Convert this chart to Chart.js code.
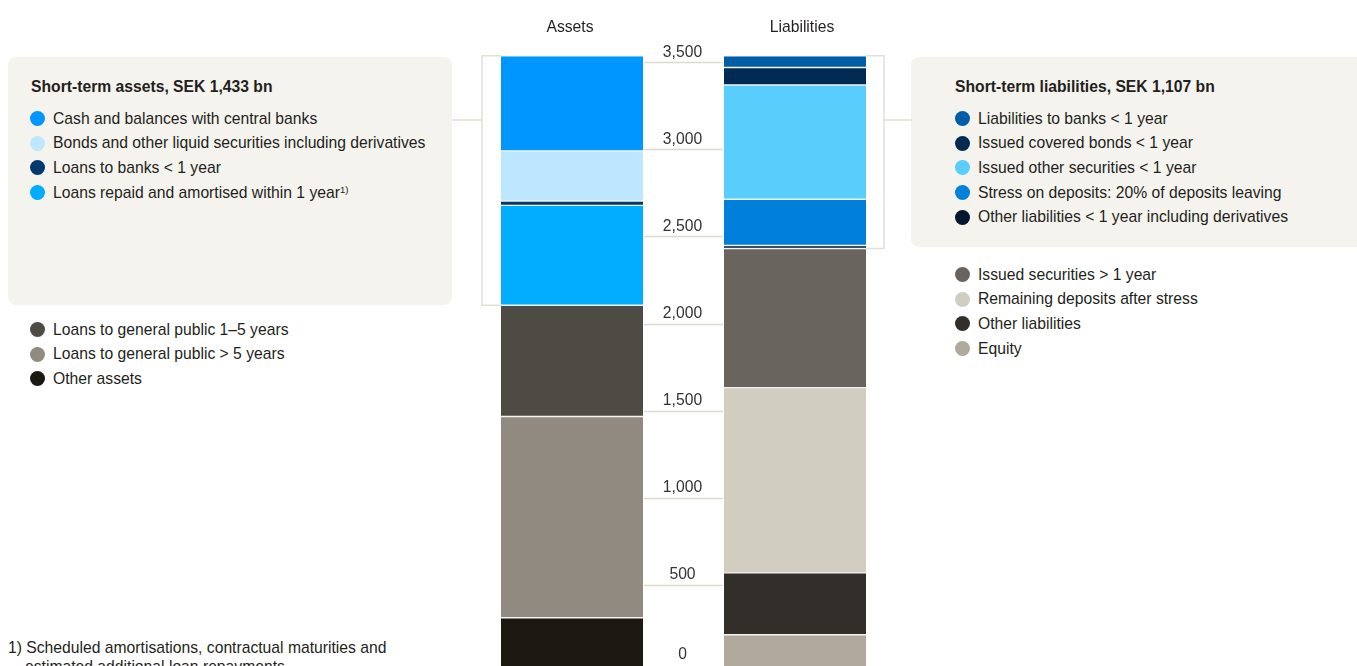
<!DOCTYPE html>
<html>
<head>
<meta charset="utf-8">
<script src="https://cdn.jsdelivr.net/npm/chart.js@4/dist/chart.umd.min.js"></script>
<style>
  html, body { margin: 0; padding: 0; }
  body {
    width: 1357px; height: 666px; overflow: hidden; position: relative;
    background: #fff; color: #231f20;
    font-family: "Liberation Sans", Arial, Helvetica, sans-serif; font-size: 15.7px;
  }
  .box { position: absolute; background: #f5f3ee; border-radius: 8px; }
  .title { position: absolute; font-weight: bold; line-height: 18px; }
  .legend { position: absolute; margin: 0; padding: 0; list-style: none; }
  .legend li { position: relative; height: 24.7px; line-height: 24.7px; padding-left: 23px; white-space: nowrap; }
  .legend li .dot {
    position: absolute; left: 0; top: 4.5px; width: 15px; height: 15px; border-radius: 50%;
  }
  .legend sup { font-size: 9.5px; line-height: 0; vertical-align: 5px; }
  #chart { position: absolute; left: 440px; top: 0; }
  .note { position: absolute; left: 8px; top: 638px; line-height: 19px; padding-left: 17px; text-indent: -17px; white-space: nowrap; }
</style>
</head>
<body>
<div class="box" style="left:8px; top:57px; width:444px; height:248px;"></div>
<div class="box" style="left:911px; top:57px; width:470px; height:190px;"></div>
<div class="title" id="assetTitle" style="left:31px; top:78px;"></div>
<div class="title" id="liabTitle" style="left:955px; top:78px;"></div>
<ul class="legend" id="shortAssetLegend" style="left:30px; top:106.5px;"></ul>
<ul class="legend" id="longAssetLegend" style="left:30px; top:317.5px;"></ul>
<ul class="legend" id="shortLiabLegend" style="left:955px; top:106.5px;"></ul>
<ul class="legend" id="longLiabLegend" style="left:955px; top:262.5px;"></ul>
<div class="note">1) Scheduled amortisations, contractual maturities and<br>estimated additional loan repayments</div>
<canvas id="chart" width="500" height="700"></canvas>
<script>
  // SEK bn, listed top-down as in the legends
  var categories = ['Assets', 'Liabilities'];

  var shortAssetLabels = ['Cash and balances with central banks', 'Bonds and other liquid securities including derivatives',
    'Loans to banks < 1 year', 'Loans repaid and amortised within 1 year'];
  var shortAssetValues = [546, 288, 25, 574];
  var shortAssetColors = ['#0096ff', '#bde7fe', '#003a70', '#00adff'];

  var longAssetLabels = ['Loans to general public 1–5 years', 'Loans to general public > 5 years', 'Other assets'];
  var longAssetValues = [639, 1156, 310];
  var longAssetColors = ['#4e4b45', '#918a80', '#1c1912'];

  var shortLiabLabels = ['Liabilities to banks < 1 year', 'Issued covered bonds < 1 year', 'Issued other securities < 1 year',
    'Stress on deposits: 20% of deposits leaving', 'Other liabilities < 1 year including derivatives'];
  var shortLiabValues = [67, 101, 656, 266, 17];
  var shortLiabColors = ['#005ea8', '#002a52', '#59cefd', '#0080db', '#00172e'];

  var longLiabLabels = ['Issued securities > 1 year', 'Remaining deposits after stress', 'Other liabilities', 'Equity'];
  var longLiabValues = [799, 1064, 356, 212];
  var longLiabColors = ['#69645e', '#d1cec0', '#322f2a', '#b0a99c'];

  var tickValues = [0, 500, 1000, 1500, 2000, 2500, 3000, 3500];
  var footnoted = 'Loans repaid and amortised within 1 year';

  function sum(a) { return a.reduce(function (s, v) { return s + v; }, 0); }
  function fmt(v) { return v.toLocaleString('en-US'); }

  document.getElementById('assetTitle').textContent = 'Short-term assets, SEK ' + fmt(sum(shortAssetValues)) + ' bn';
  document.getElementById('liabTitle').textContent = 'Short-term liabilities, SEK ' + fmt(sum(shortLiabValues)) + ' bn';

  function fillLegend(id, labels, colors) {
    var ul = document.getElementById(id);
    labels.forEach(function (label, i) {
      var li = document.createElement('li');
      var dot = document.createElement('span');
      dot.className = 'dot';
      dot.style.background = colors[i];
      li.appendChild(dot);
      li.appendChild(document.createTextNode(label));
      if (label === footnoted) {
        var sup = document.createElement('sup');
        sup.textContent = '1)';
        li.appendChild(sup);
      }
      ul.appendChild(li);
    });
  }
  fillLegend('shortAssetLegend', shortAssetLabels, shortAssetColors);
  fillLegend('longAssetLegend', longAssetLabels, longAssetColors);
  fillLegend('shortLiabLegend', shortLiabLabels, shortLiabColors);
  fillLegend('longLiabLegend', longLiabLabels, longLiabColors);

  // stacks are built bottom-up, so walk the lists in reverse
  var datasets = [];
  function addStack(labels, values, colors, col) {
    for (var i = labels.length - 1; i >= 0; i--) {
      var data = [null, null];
      data[col] = values[i];
      datasets.push({
        label: labels[i],
        data: data,
        backgroundColor: colors[i],
        borderColor: '#f3f2ee',
        borderWidth: { top: 1, bottom: 1, left: 0, right: 0 },
        borderSkipped: false
      });
    }
  }
  addStack(shortAssetLabels.concat(longAssetLabels),
    shortAssetValues.concat(longAssetValues), shortAssetColors.concat(longAssetColors), 0);
  addStack(shortLiabLabels.concat(longLiabLabels),
    shortLiabValues.concat(longLiabValues), shortLiabColors.concat(longLiabColors), 1);

  var assetCount = shortAssetLabels.length + longAssetLabels.length;

  function barEdges(chart, dsIndex, col) {
    var bar = chart.getDatasetMeta(dsIndex).data[col].getProps(['x', 'width'], true);
    return { left: bar.x - bar.width / 2, right: bar.x + bar.width / 2, x: bar.x };
  }

  // axis labels between the bars, brackets round the short-term parts
  var decor = {
    id: 'decor',
    beforeDatasetsDraw: function (chart) {
      var ctx = chart.ctx, ys = chart.scales.y;
      var a = barEdges(chart, 0, 0), l = barEdges(chart, assetCount, 1);
      ctx.save();
      ctx.strokeStyle = '#dcd9cf';
      ctx.lineWidth = 1.5;
      tickValues.forEach(function (v) {
        var y = Math.round(ys.getPixelForValue(v)) + 0.5;
        ctx.beginPath();
        ctx.moveTo(a.right + 1, y);
        ctx.lineTo(l.left - 1, y);
        ctx.stroke();
      });

      ctx.strokeStyle = '#e2dfd6';
      var aTop = ys.getPixelForValue(sum(shortAssetValues) + sum(longAssetValues));
      var aBot = ys.getPixelForValue(sum(longAssetValues));
      var bx = a.left - 19;
      ctx.beginPath();
      ctx.moveTo(a.left, aTop); ctx.lineTo(bx, aTop); ctx.lineTo(bx, aBot); ctx.lineTo(a.left, aBot);
      ctx.moveTo(bx, 120); ctx.lineTo(bx - 30, 120);
      ctx.stroke();

      var lTop = ys.getPixelForValue(sum(shortLiabValues) + sum(longLiabValues));
      var lBot = ys.getPixelForValue(sum(longLiabValues));
      var rx = l.right + 18;
      ctx.beginPath();
      ctx.moveTo(l.right, lTop); ctx.lineTo(rx, lTop); ctx.lineTo(rx, lBot); ctx.lineTo(l.right, lBot);
      ctx.moveTo(rx, 120); ctx.lineTo(rx + 28, 120);
      ctx.stroke();
      ctx.restore();
    },
    afterDatasetsDraw: function (chart) {
      var ctx = chart.ctx, ys = chart.scales.y;
      var a = barEdges(chart, 0, 0), l = barEdges(chart, assetCount, 1);
      ctx.save();
      ctx.font = '15.7px "Liberation Sans", Arial, sans-serif';
      ctx.textAlign = 'center';
      ctx.textBaseline = 'middle';
      ctx.fillStyle = '#333';
      var mid = (a.right + l.left) / 2 - 1;
      tickValues.forEach(function (v) {
        var y = Math.min(ys.getPixelForValue(v) - 10, 655);
        ctx.fillText(fmt(v), mid, y);
      });
      ctx.fillStyle = '#231f20';
      ctx.fillText(categories[0], a.x - 2, 27.5);
      ctx.fillText(categories[1], l.x + 7, 27.5);
      ctx.restore();
    }
  };

  new Chart(document.getElementById('chart'), {
    type: 'bar',
    data: { labels: categories, datasets: datasets },
    options: {
      responsive: false,
      animation: false,
      layout: { padding: { left: 20.5, right: 33.5, top: 45, bottom: 28.3 } },
      barThickness: 142,
      scales: {
        x: { stacked: true, display: false },
        y: { stacked: true, display: false, min: 0, max: 3600 }
      },
      plugins: { legend: { display: false }, tooltip: { enabled: false } }
    },
    plugins: [decor]
  });
</script>
</body>
</html>
